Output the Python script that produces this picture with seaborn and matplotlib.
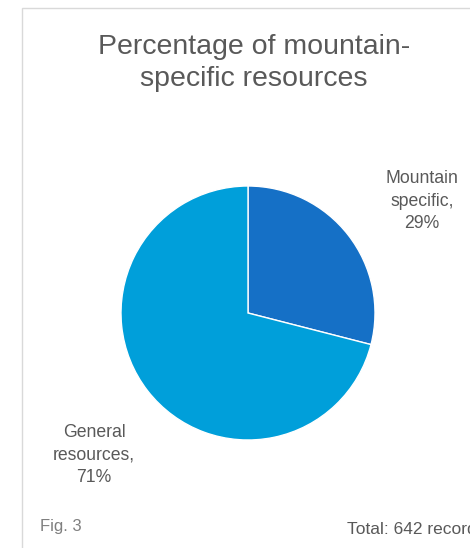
import matplotlib
matplotlib.use("Agg")
import matplotlib.pyplot as plt
from matplotlib.patches import Rectangle
import seaborn as sns
import pandas as pd

categories = ["Mountain specific", "General resources"]
shares = [29, 71]
slice_colors = ["#1570C6", "#009FDA"]
total_records = 642

sns.set_theme(style="white")
plt.rcParams["font.family"] = ["Liberation Sans", "DejaVu Sans"]

df = pd.DataFrame({"category": categories, "share": shares})

W, H = 470, 548
fig = plt.figure(figsize=(W / 100, H / 100), dpi=100)
fig.patch.set_facecolor("white")

# light frame around the chart area, running off the right and bottom edges
fig.patches.append(Rectangle((22 / W, -0.1), 1.2, 1 - 8 / H + 0.1,
                             transform=fig.transFigure, fill=False,
                             edgecolor="#D9D9D9", linewidth=1.0))

cx, cy, r = 248, 313, 127
ax = fig.add_axes([(cx - r) / W, (H - cy - r) / H, 2 * r / W, 2 * r / H])
ax.pie(df["share"], colors=slice_colors, startangle=90, counterclock=False,
       radius=1, wedgeprops=dict(edgecolor="white", linewidth=1.0))
ax.set_xlim(-1, 1)
ax.set_ylim(-1, 1)
ax.set_aspect("equal")
ax.axis("off")

txt = "#595959"
fig.text(254 / W, 1 - 63 / H, "Percentage of mountain-\nspecific resources",
         ha="center", va="center", fontsize=20.5, color=txt, linespacing=1.3)

fig.text(422 / W, 1 - 201 / H, f"Mountain\nspecific,\n{shares[0]}%",
         ha="center", va="center", fontsize=12.7, color=txt, linespacing=1.4)
fig.text(94 / W, 1 - 455 / H, f"General\nresources,\n{shares[1]}%",
         ha="center", va="center", fontsize=12.7, color=txt, linespacing=1.4)

fig.text(40 / W, 1 - 526 / H, "Fig. 3", ha="left", va="center",
         fontsize=12, color="#7F7F7F")
fig.text(347 / W, 1 - 529 / H, f"Total: {total_records} records", ha="left",
         va="center", fontsize=12.5, color=txt)

fig.savefig("out.png", dpi=100, facecolor="white")
